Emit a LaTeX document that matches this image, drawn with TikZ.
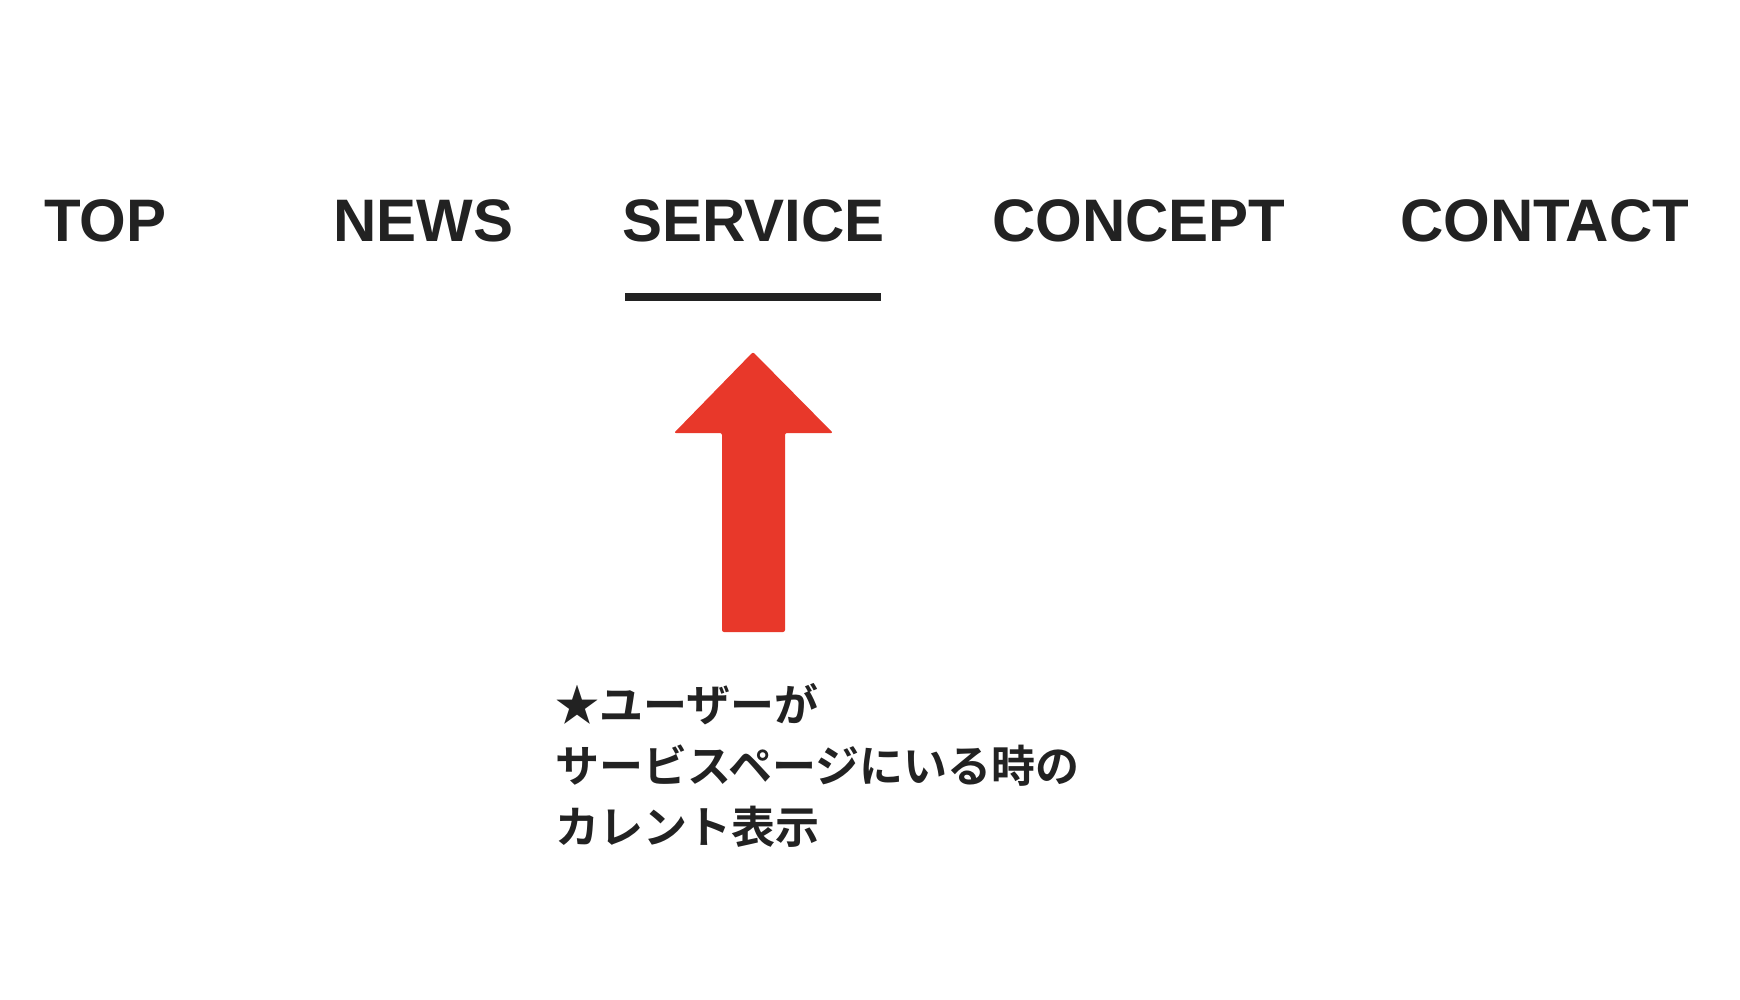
\documentclass[tikz,border=0pt]{standalone}
\usepackage{fontspec}
\setmainfont{Liberation Sans}
\newfontfamily\cjk{Noto Sans CJK JP Bold}
\definecolor{ink}{HTML}{222222}
\definecolor{arrred}{HTML}{E8382A}
\begin{document}
\begin{tikzpicture}[x=1pt,y=-1pt,
  nav/.style={anchor=base west,inner sep=0pt,font=\fontsize{60}{60}\selectfont\bfseries,text=ink},
  note/.style={anchor=north west,inner sep=0pt,align=left,font=\cjk\fontsize{44}{61}\selectfont,text=ink}]
\useasboundingbox (0,0) rectangle (1740,1000);
\node[nav] (top) at (44,242) {TOP};
\node[nav] (news) at (333,242) {NEWS};
\node[nav] (service) at (622,242) {SERVICE};
\node[nav] (concept) at (992,242) {CONCEPT};
\node[nav] (contact) at (1400,242) {CONTACT};
\fill[ink] (625,293) rectangle (881,301);
\fill[arrred,rounded corners=2pt] (753,352) -- (833,433) -- (785,433) -- (785,632) -- (722,632) -- (722,433) -- (674,433) -- cycle;
\node[note] (txt) at (555,683) {★ユーザーが\\サービスページにいる時の\\カレント表示};
\end{tikzpicture}
\end{document}
